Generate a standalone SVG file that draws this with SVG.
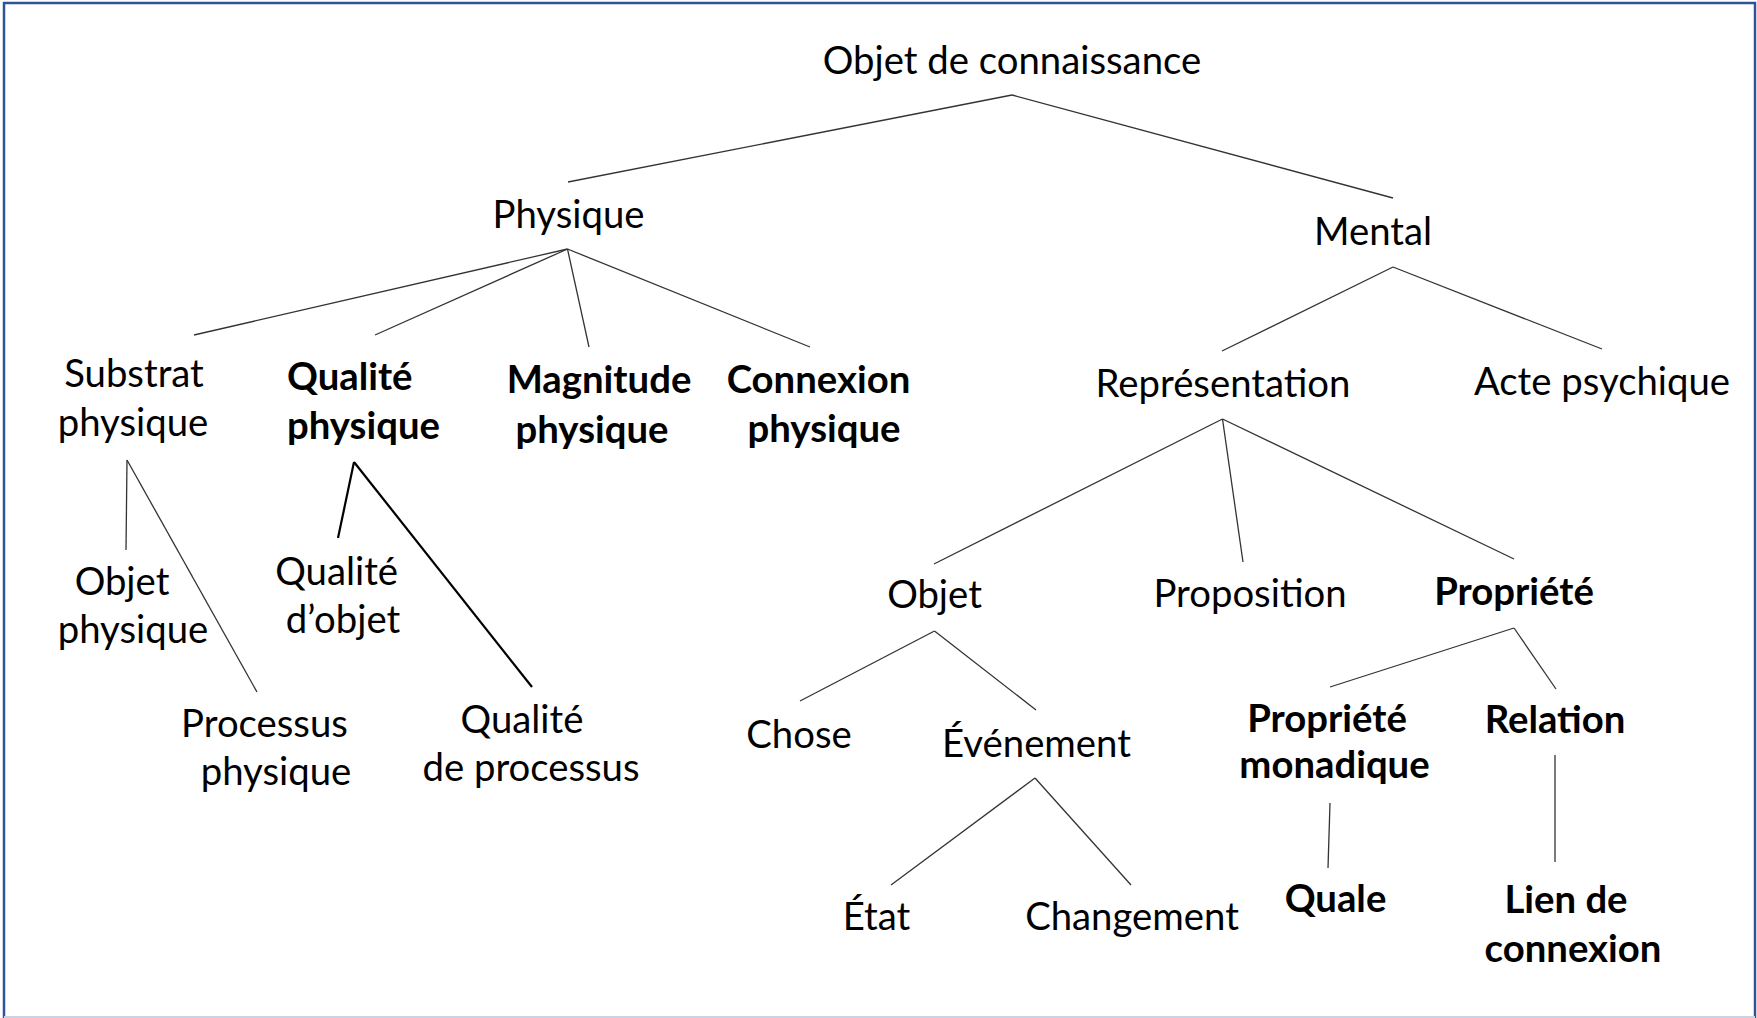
<svg xmlns="http://www.w3.org/2000/svg" width="1757" height="1018" viewBox="0 0 1757 1018">
<style>
text{font-family:Lato,"Open Sans","Liberation Sans",sans-serif;font-size:38.3px;fill:#000;text-anchor:middle}
.b{font-weight:bold}
.l{text-anchor:start}
.c line{stroke:#333;stroke-width:1.3}
.c line.t{stroke:#000;stroke-width:2.2}
</style>
<rect x="0" y="0" width="1757" height="1018" fill="#fff"/>
<rect x="4" y="3" width="1751" height="1030" fill="none" stroke="#2F5496" stroke-width="2.5"/>
<line x1="4" y1="1017" x2="1755" y2="1017" stroke="#C9D3E3" stroke-width="2"/>
<g class="c" id="connectors">
<line x1="1012" y1="95" x2="568" y2="182"/>
<line x1="1012" y1="95" x2="1393" y2="198"/>
<line x1="567.5" y1="249" x2="194" y2="335"/>
<line x1="567.5" y1="249" x2="375" y2="335"/>
<line x1="567.5" y1="249" x2="589" y2="347"/>
<line x1="567.5" y1="249" x2="810" y2="347"/>
<line x1="1393" y1="267" x2="1222" y2="351"/>
<line x1="1393" y1="267" x2="1602" y2="349"/>
<line x1="1222.5" y1="419" x2="934" y2="564"/>
<line x1="1222.5" y1="419" x2="1243" y2="562"/>
<line x1="1222.5" y1="419" x2="1514" y2="559"/>
<line x1="934.5" y1="631" x2="800" y2="701"/>
<line x1="934.5" y1="631" x2="1036" y2="710"/>
<line x1="1035" y1="778" x2="891" y2="885"/>
<line x1="1035" y1="778" x2="1131" y2="885"/>
<line x1="1514" y1="628" x2="1330" y2="687"/>
<line x1="1514" y1="628" x2="1556" y2="689"/>
<line x1="1330" y1="803" x2="1328" y2="868"/>
<line x1="1555" y1="755" x2="1555" y2="862"/>
<line x1="127" y1="460" x2="126" y2="550"/>
<line x1="127" y1="460" x2="257" y2="692"/>
<line class="t" x1="354" y1="462" x2="338" y2="538"/>
<line class="t" x1="354" y1="462" x2="532" y2="687"/>
</g>
<g id="n-objet-connaissance"><text x="1012" y="74">Objet de connaissance</text></g>
<g id="n-physique"><text x="568.5" y="228">Physique</text></g>
<g id="n-mental"><text x="1373" y="245">Mental</text></g>
<g id="n-substrat"><text x="134" y="387">Substrat</text><text x="133" y="436">physique</text></g>
<g id="n-qualite-physique"><text class="b l" x="287" y="390">Qualité</text><text class="b l" x="287" y="439">physique</text></g>
<g id="n-magnitude"><text class="b" x="599" y="393">Magnitude</text><text class="b" x="592" y="443">physique</text></g>
<g id="n-connexion"><text class="b" x="818.5" y="393">Connexion</text><text class="b" x="824" y="442">physique</text></g>
<g id="n-representation"><text x="1223" y="397">Représentation</text></g>
<g id="n-acte"><text x="1602" y="395">Acte psychique</text></g>
<g id="n-objet-physique"><text x="122" y="595">Objet</text><text x="133" y="643">physique</text></g>
<g id="n-processus-physique"><text x="264.5" y="737">Processus</text><text x="276" y="785">physique</text></g>
<g id="n-qualite-objet"><text x="336.6" y="585">Qualité</text><text x="343" y="633">d’objet</text></g>
<g id="n-qualite-processus"><text x="522" y="733">Qualité</text><text x="531" y="781">de processus</text></g>
<g id="n-objet"><text x="934.5" y="608">Objet</text></g>
<g id="n-proposition"><text x="1250" y="607">Proposition</text></g>
<g id="n-propriete"><text class="b" x="1514" y="605">Propriété</text></g>
<g id="n-chose"><text x="799" y="748">Chose</text></g>
<g id="n-evenement"><text x="1036.5" y="757">Événement</text></g>
<g id="n-etat"><text x="876.5" y="930">État</text></g>
<g id="n-changement"><text x="1132" y="930">Changement</text></g>
<g id="n-propriete-monadique"><text class="b" x="1327" y="732">Propriété</text><text class="b" x="1334.5" y="778">monadique</text></g>
<g id="n-relation"><text class="b" x="1555" y="733">Relation</text></g>
<g id="n-quale"><text class="b" x="1335.5" y="912">Quale</text></g>
<g id="n-lien"><text class="b" x="1566" y="913">Lien de</text><text class="b" x="1573" y="962">connexion</text></g>
</svg>
